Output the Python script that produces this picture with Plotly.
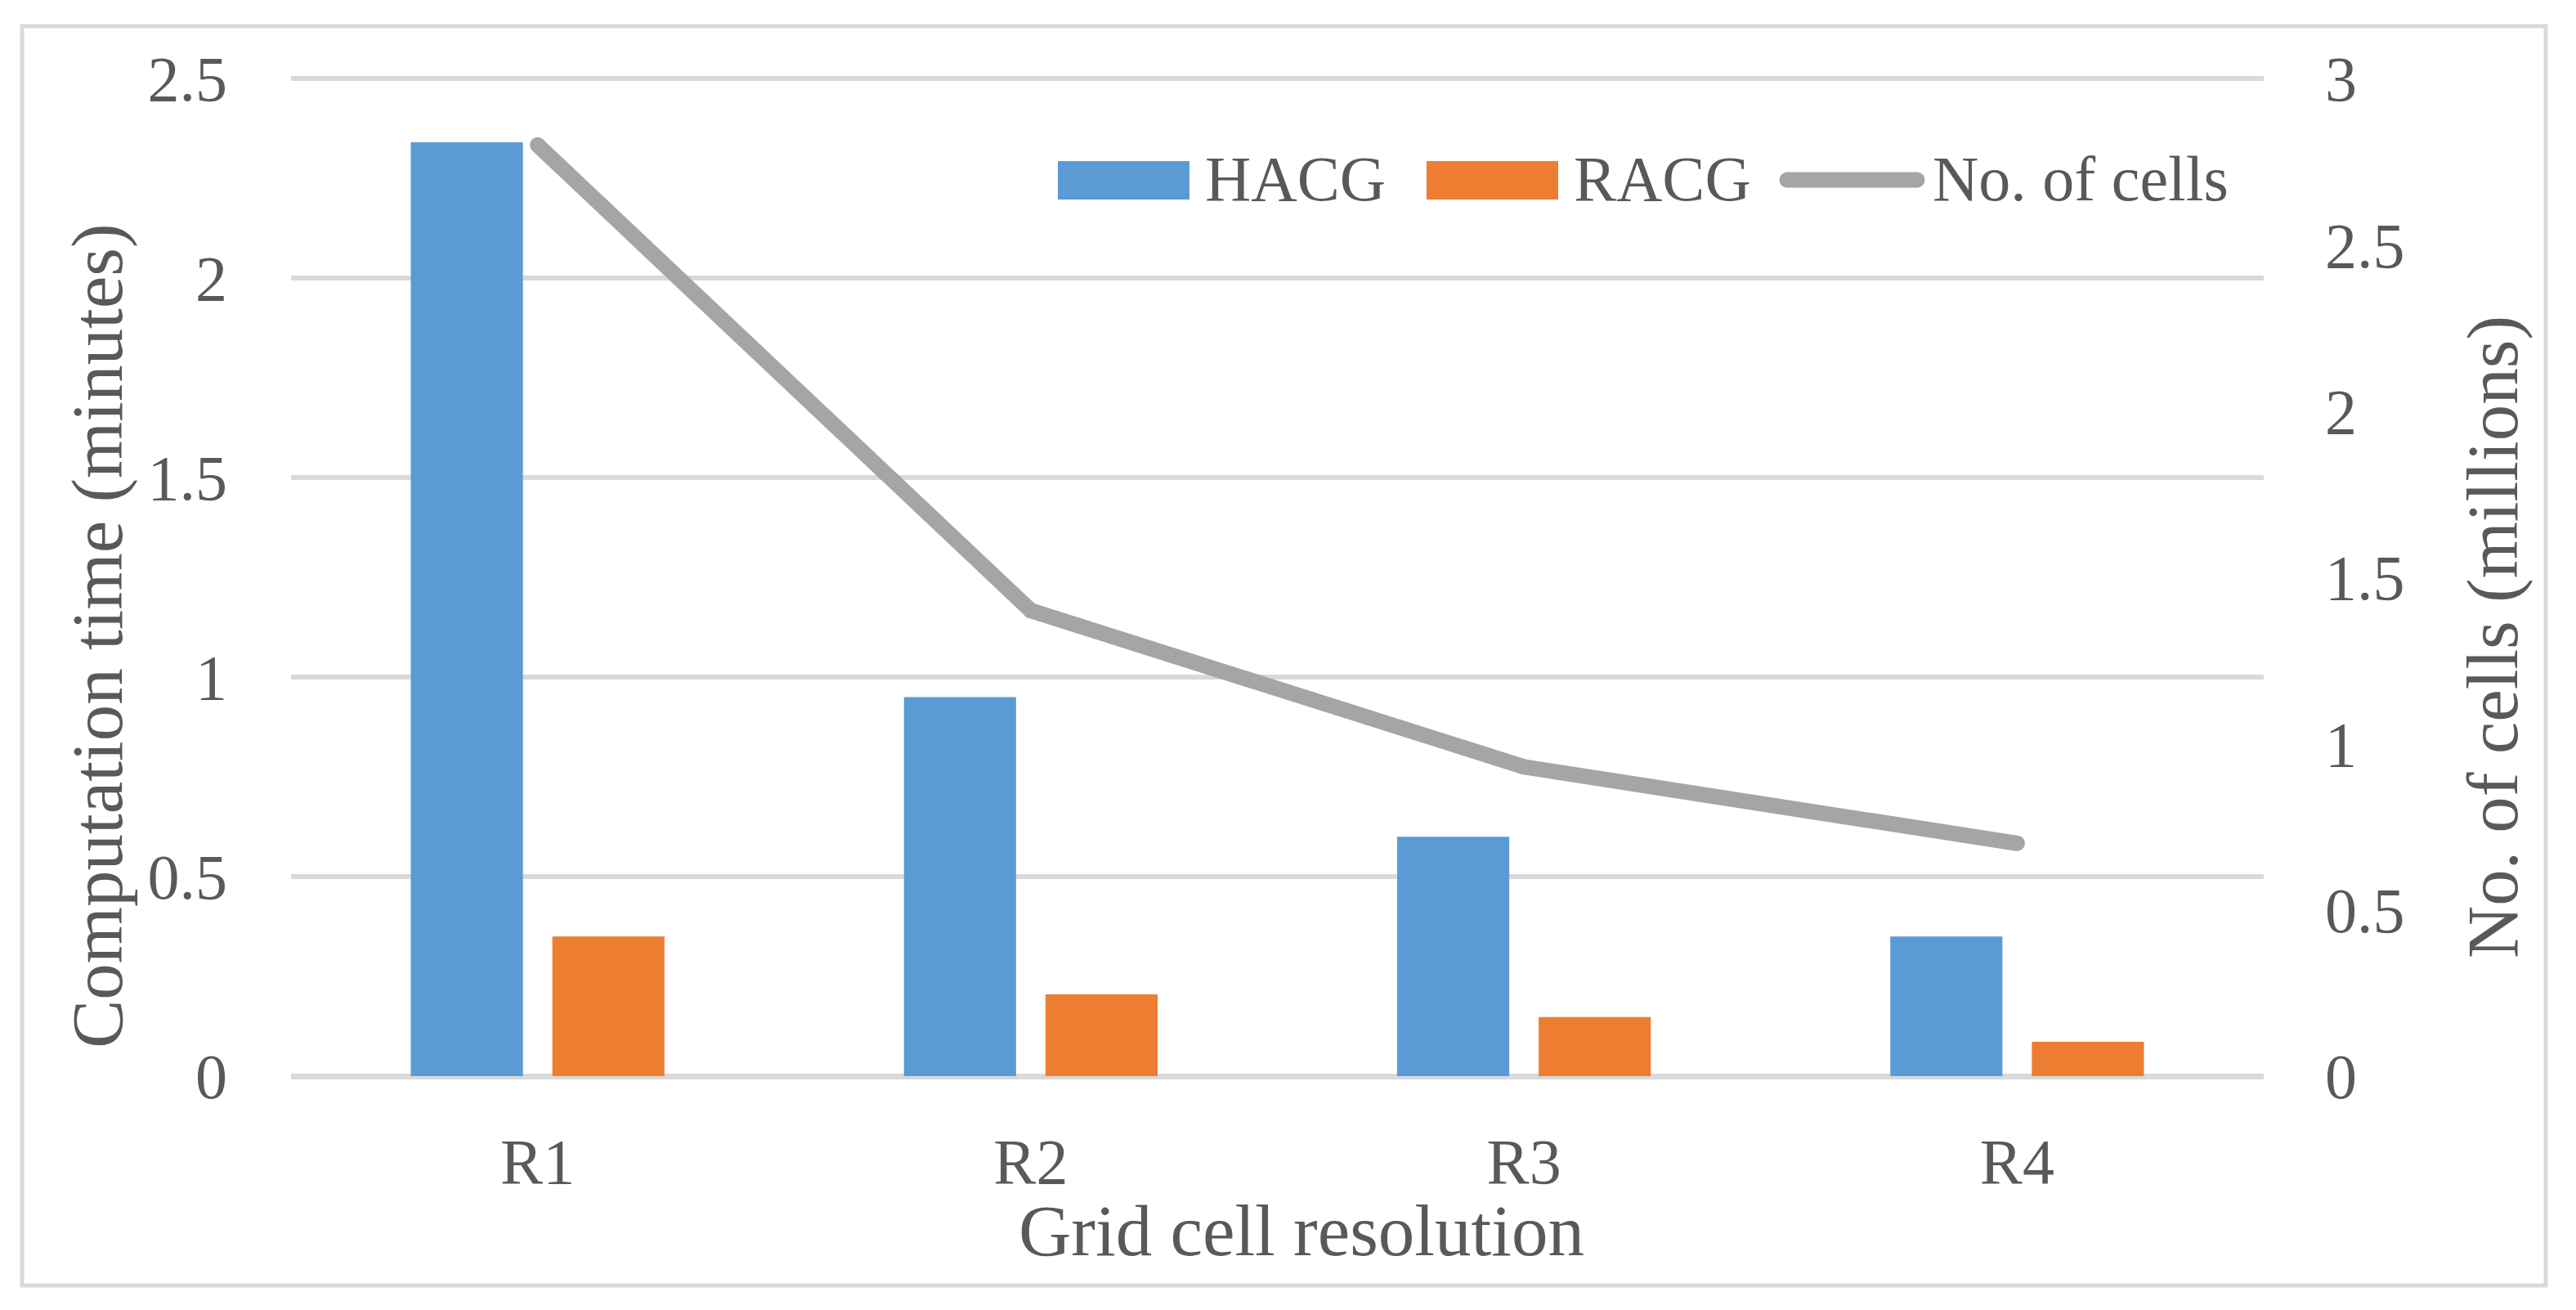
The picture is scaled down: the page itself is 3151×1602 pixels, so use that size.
import plotly.graph_objects as go

# ---------------- data ----------------
categories = ["R1", "R2", "R3", "R4"]
hacg_minutes = [2.34, 0.95, 0.60, 0.35]
racg_minutes = [0.35, 0.205, 0.148, 0.086]
cells_millions = [2.80, 1.40, 0.93, 0.70]

left_tick_vals = [0, 0.5, 1, 1.5, 2, 2.5]
left_tick_text = ["0", "0.5", "1", "1.5", "2", "2.5"]
right_tick_vals = [0, 0.5, 1, 1.5, 2, 2.5, 3]
right_tick_text = ["0", "0.5", "1", "1.5", "2", "2.5", "3"]

series_names = ["HACG", "RACG", "No. of cells"]
x_title = "Grid cell resolution"
y_title = "Computation time (minutes)"
y2_title = "No. of cells (millions)"

# ---------------- style ----------------
OFF = 8                      # default page body margin in the browser
W, H = 3151 - 2 * OFF, 1602 - 2 * OFF
L, R, T, B = 356 - OFF, 2769 - OFF, 96 - OFF, 1316 - OFF
BLUE = "#5b9bd5"
ORANGE = "#ed7d31"
GREY = "#a5a5a5"
GRID = "#d9d9d9"
TEXT = "#595959"
FONT = "Liberation Serif"
TICK_SIZE = 78
TITLE_SIZE = 89
LINE_W = 19
Y_TOP = 2.5
Y2_TOP = 3.0


def px_x(p):
    return (p - OFF - L) / (R - L)


def px_y(p):
    return (B - (p - OFF)) / (B - T)


fig = go.Figure()
fig.add_trace(go.Bar(x=categories, y=hacg_minutes, name=series_names[0],
                     marker=dict(color=BLUE, line=dict(width=0)), showlegend=False))
fig.add_trace(go.Bar(x=categories, y=racg_minutes, name=series_names[1],
                     marker=dict(color=ORANGE, line=dict(width=0)), showlegend=False))
fig.add_trace(go.Scatter(x=categories, y=cells_millions, name=series_names[2], yaxis="y2",
                         mode="lines+markers",
                         line=dict(color=GREY, width=LINE_W),
                         marker=dict(color=GREY, size=LINE_W, line=dict(width=0)),
                         showlegend=False))

shapes = []
annotations = []

# outer chart border
shapes.append(dict(type="rect", xref="paper", yref="paper",
                   x0=px_x(27), x1=px_x(3114), y0=px_y(1572), y1=px_y(32),
                   line=dict(color=GRID, width=5), layer="below"))

# gridline at the top tick (plotly omits the one lying on the plot edge)
top_frac = left_tick_vals[-1] / Y_TOP
shapes.append(dict(type="line", xref="paper", yref="paper", x0=0, x1=1,
                   y0=top_frac, y1=top_frac, line=dict(color=GRID, width=6), layer="below"))

# custom legend
sw_y0, sw_y1 = px_y(244), px_y(197)
shapes.append(dict(type="rect", xref="paper", yref="paper", x0=px_x(1294), x1=px_x(1455),
                   y0=sw_y0, y1=sw_y1, fillcolor=BLUE, line=dict(width=0)))
shapes.append(dict(type="rect", xref="paper", yref="paper", x0=px_x(1745), x1=px_x(1906),
                   y0=sw_y0, y1=sw_y1, fillcolor=ORANGE, line=dict(width=0)))
shapes.append(dict(type="line", xref="paper", yref="paper", x0=px_x(2186), x1=px_x(2345),
                   y0=px_y(220), y1=px_y(220), line=dict(color=GREY, width=LINE_W)))
for cx in (2186, 2345):
    shapes.append(dict(type="circle", xref="paper", yref="paper",
                       xsizemode="pixel", ysizemode="pixel",
                       xanchor=px_x(cx), yanchor=px_y(220),
                       x0=-LINE_W / 2, x1=LINE_W / 2, y0=-LINE_W / 2, y1=LINE_W / 2,
                       fillcolor=GREY, line=dict(width=0)))

for name, lx in zip(series_names, (1472, 1923, 2362)):
    annotations.append(dict(text=name, xref="paper", yref="paper", x=px_x(lx), y=px_y(219),
                            xanchor="left", yanchor="middle", showarrow=False,
                            font=dict(family=FONT, size=TICK_SIZE, color=TEXT)))

# axis titles
annotations.append(dict(text=x_title, xref="paper", yref="paper", x=px_x(1592), y=px_y(1505),
                        xanchor="center", yanchor="middle", showarrow=False,
                        font=dict(family=FONT, size=TITLE_SIZE, color=TEXT)))
annotations.append(dict(text=y_title, xref="paper", yref="paper", x=px_x(119), y=px_y(778),
                        xanchor="center", yanchor="middle", textangle=-90, showarrow=False,
                        font=dict(family=FONT, size=TITLE_SIZE, color=TEXT)))
annotations.append(dict(text=y2_title, xref="paper", yref="paper", x=px_x(3049), y=px_y(779),
                        xanchor="center", yanchor="middle", textangle=-90, showarrow=False,
                        font=dict(family=FONT, size=TITLE_SIZE, color=TEXT)))

fig.update_layout(
    width=W, height=H,
    margin=dict(l=L, r=W - R, t=T, b=H - B, pad=0),
    paper_bgcolor="white", plot_bgcolor="white",
    barmode="group", bargap=0.426, bargroupgap=0.208,
    font=dict(family=FONT, size=TICK_SIZE, color=TEXT),
    showlegend=False,
    shapes=shapes, annotations=annotations,
    xaxis=dict(type="category", categoryorder="array", categoryarray=categories,
               showgrid=False, zeroline=False, showline=False, ticks="",
               tickfont=dict(family=FONT, size=TICK_SIZE, color=TEXT),
               ticklabelstandoff=52, automargin=False),
    yaxis=dict(range=[0, Y_TOP], tickvals=left_tick_vals, ticktext=left_tick_text,
               showgrid=True, gridcolor=GRID, gridwidth=6,
               zeroline=True, zerolinecolor=GRID, zerolinewidth=7,
               showline=False, ticks="",
               tickfont=dict(family=FONT, size=TICK_SIZE, color=TEXT),
               ticklabelstandoff=77, automargin=False),
    yaxis2=dict(range=[0, Y2_TOP], tickvals=right_tick_vals, ticktext=right_tick_text,
                overlaying="y", side="right", showgrid=False, zeroline=False,
                showline=False, ticks="",
                tickfont=dict(family=FONT, size=TICK_SIZE, color=TEXT),
                ticklabelstandoff=74, automargin=False),
)

fig.write_html("out.html")
